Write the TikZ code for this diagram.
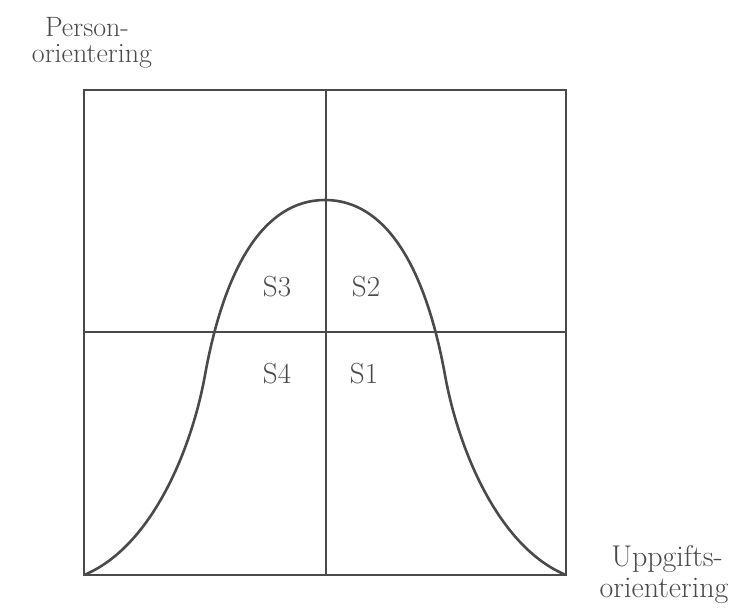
\documentclass[tikz,border=0pt]{standalone}
\usepackage{fontspec}
\usepackage{tikz}
\definecolor{ink}{HTML}{4A4A4A}
\definecolor{txt}{HTML}{4A4A4A}
\tikzset{
  frame/.style={draw=ink, line width=2.6pt},
  axis/.style={draw=ink, line width=1.6pt},
  bell/.style={draw=ink, line width=2.6pt, line join=round},
  toplbl/.style={text=txt, font=\fontsize{28}{26}\selectfont, inner sep=0pt, anchor=base},
  botlbl/.style={text=txt, font=\fontsize{30}{26}\selectfont, inner sep=0pt, anchor=base},
  quad/.style={text=txt, font=\fontsize{29}{30}\selectfont, inner sep=0pt}
}
\begin{document}
\begin{tikzpicture}[x=1pt,y=-1pt]
\useasboundingbox[fill=white] (0,0) rectangle (740,608);
\coordinate (tl) at (84,90);
\coordinate (br) at (566,575);
\coordinate (bl) at (84,575);
\coordinate (vt) at (326,90);
\coordinate (vb) at (326,575);
\coordinate (hl) at (84,332);
\coordinate (hr) at (566,332);
\coordinate (pl) at (205,375);
\coordinate (top) at (325,200);
\coordinate (pr) at (445,375);
\draw[axis] (vt) -- (vb);
\draw[axis] (hl) -- (hr);
\draw[frame] (tl) rectangle (br);
\draw[bell] (bl) .. controls (152,547) and (192,448) .. (pl)
  .. controls (225,265) and (265,200) .. (top)
  .. controls (385,200) and (425,265) .. (pr)
  .. controls (458,448) and (498,547) .. (br);
\node[quad] (s3) at (277,287) {S3};
\node[quad] (s2) at (366,287) {S2};
\node[quad] (s4) at (277,374) {S4};
\node[quad] (s1) at (364,374) {S1};
\node[toplbl] (p1) at (87,36) {Person-};
\node[toplbl] (p2) at (92,62) {orientering};
\node[botlbl] (u1) at (667,566) {Uppgifts-};
\node[botlbl] (u2) at (664,597) {orientering};
\end{tikzpicture}
\end{document}
